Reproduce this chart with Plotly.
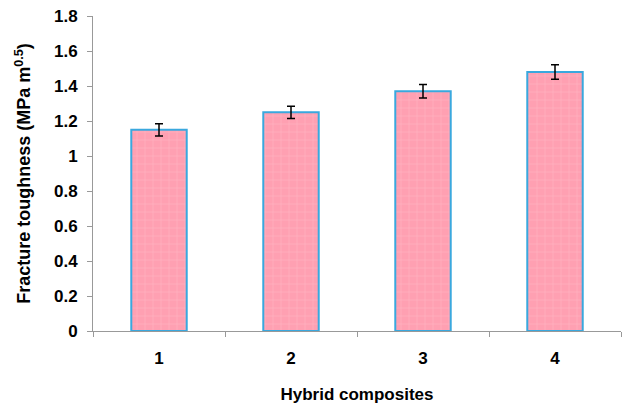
import plotly.graph_objects as go

categories = ["1", "2", "3", "4"]
toughness = [1.15, 1.25, 1.37, 1.48]
errors = [0.035, 0.035, 0.038, 0.042]
y_ticks = [0, 0.2, 0.4, 0.6, 0.8, 1, 1.2, 1.4, 1.6, 1.8]
y_tick_labels = ["0", "0.2", "0.4", "0.6", "0.8", "1", "1.2", "1.4", "1.6", "1.8"]

fig = go.Figure()
fig.add_trace(go.Bar(
    x=categories, y=toughness,
    width=0.42,
    marker=dict(
        color="#FFA0B2",
        line=dict(color="#3AA8DE", width=2),
        pattern=dict(shape="+", fgcolor="#FFBCC9", bgcolor="#FFA0B2", size=8, solidity=0.2),
    ),
    error_y=dict(type="data", array=errors, visible=True, color="black", thickness=1.5, width=4),
))

font_bold = "Liberation Sans"
fig.update_layout(
    width=635, height=405,
    margin=dict(l=85, r=22, t=8, b=82, autoexpand=False),
    paper_bgcolor="white", plot_bgcolor="white",
    showlegend=False,
    font=dict(family=font_bold, color="black"),
    xaxis=dict(
        type="category", automargin=False,
        showline=True, linecolor="#999999", linewidth=1,
        ticks="outside", tickson="boundaries", ticklen=5, tickcolor="#999999",
        ticklabelstandoff=12,
        tickfont=dict(size=17, family=font_bold, weight="bold"),
        title=dict(text="<b>Hybrid composites</b>", font=dict(size=17, family=font_bold), standoff=20),
        showgrid=False,
    ),
    yaxis=dict(
        range=[0, 1.8], automargin=False,
        tickvals=y_ticks, ticktext=y_tick_labels,
        showline=True, linecolor="#999999", linewidth=1,
        ticks="outside", ticklen=5, tickcolor="#999999",
        ticklabelstandoff=6, ticklabeloverflow="allow",
        tickfont=dict(size=17, family=font_bold, weight="bold"),
        title=dict(text="<b>Fracture toughness (MPa m<sup>0.5</sup>)</b>", font=dict(size=18, family=font_bold), standoff=18),
        showgrid=False, zeroline=False,
    ),
)

fig.write_html("out.html")
